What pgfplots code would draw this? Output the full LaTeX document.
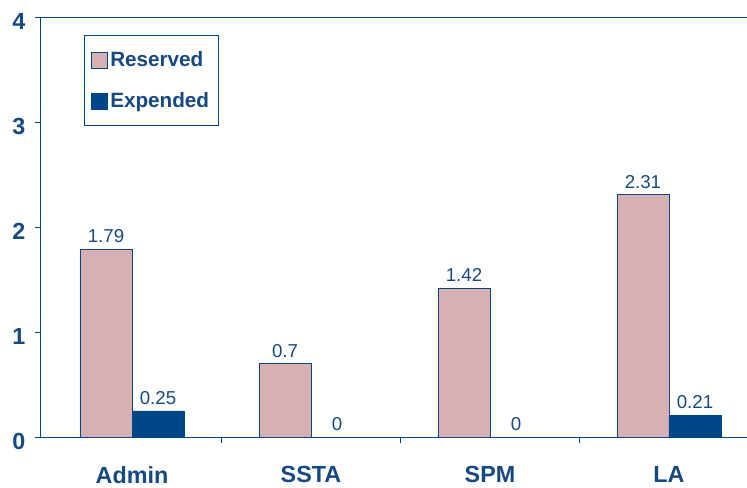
\documentclass[border=0pt]{standalone}
\usepackage{fontspec}
\setmainfont{Liberation Sans}
\usepackage{pgfplots}
\pgfplotsset{compat=1.18}
\definecolor{navy}{RGB}{0,71,135}
\definecolor{txt}{RGB}{22,72,130}
\definecolor{pinkb}{RGB}{216,176,180}
\begin{document}
\begin{tikzpicture}
\useasboundingbox (-30pt,-37.5pt) rectangle (530pt,327.75pt);
\begin{axis}[
  at={(0pt,0pt)}, anchor=south west,
  scale only axis,
  width=530pt, height=315pt,
  xmin=-0.514, xmax=3.436,
  ymin=0, ymax=4,
  axis x line=box, axis y line=left,
  axis line style={draw=navy, line width=0.75pt, -},
  ytick={0,1,2,3,4},
  xtick={0.5,1.5,2.5},
  xticklabels={},
  xtick pos=bottom,
  xtick style={draw=navy, line width=0.75pt},
  extra x ticks={0,1,2,3},
  extra x tick labels={Admin,SSTA,SPM,LA},
  extra x tick style={major tick length=0pt, tick style={draw=none}},
  ytick style={draw=navy, line width=0.75pt},
  tick align=outside,
  major tick length=4pt,
  /pgf/number format/assume math mode=true,
  yticklabel style={font=\fontsize{17.5}{17.5}\selectfont\bfseries, text=txt, xshift=-3.5pt, yshift=-3.5pt},
  xticklabel style={font=\fontsize{17.5}{17.5}\selectfont\bfseries, text=txt, yshift=-18.5pt},
  ybar, bar width=39pt,
  nodes near coords,
  every node near coord/.append style={font=\fontsize{14}{14}\selectfont, text=txt, yshift=1pt},
  legend style={at={(rel axis cs:0.062,0.957)}, anchor=north west, draw=navy, line width=0.6pt,
    font=\fontsize{15.5}{15.5}\selectfont\bfseries, text=txt, row sep=14pt, inner xsep=5pt, inner ysep=10pt},
  legend cell align=left,
  legend image code/.code={\draw[#1, line width=0.5pt] (0pt,-6pt) rectangle (12pt,6pt);},
]
\addplot[fill=pinkb, draw=navy, line width=0.5pt, bar shift=-19.5pt] coordinates {(0,1.79) (1,0.7) (2,1.42) (3,2.31)};
\addplot[fill=navy, draw=navy, line width=0.5pt, bar shift=19.5pt] coordinates {(0,0.25) (1,0) (2,0) (3,0.21)};
\legend{Reserved,Expended}
\end{axis}
\end{tikzpicture}
\end{document}
